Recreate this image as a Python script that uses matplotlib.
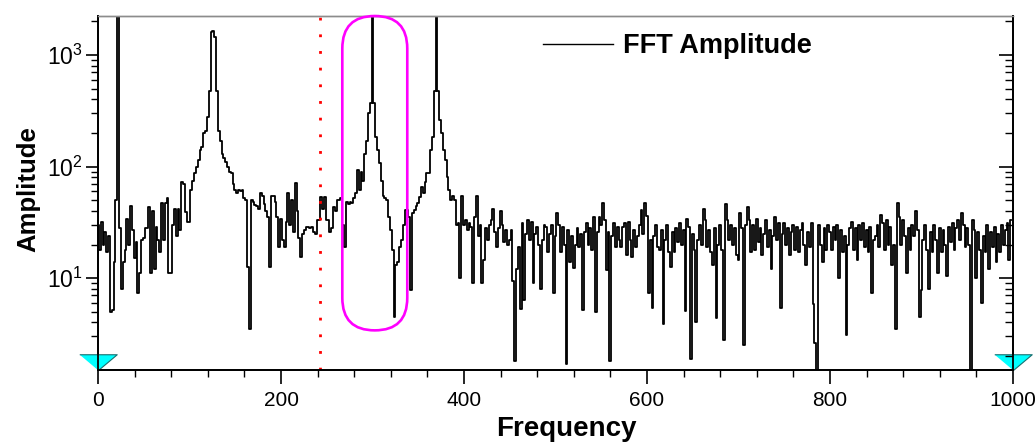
import numpy as np
import matplotlib
matplotlib.use("Agg")
import matplotlib.pyplot as plt
from matplotlib.patches import FancyBboxPatch
from matplotlib.transforms import IdentityTransform
from matplotlib.ticker import FixedLocator, MultipleLocator, LogLocator, NullFormatter, FuncFormatter

plt.rcParams['font.family'] = ['Liberation Sans', 'DejaVu Sans']

# ---------------- data ----------------
freq_step = 2.0  # Hz per FFT bin
amp_000_048 = [30, 18, 32, 20, 26, 17, 24, 5, 5.2, 14, 50, 5000, 28, 8, 14, 18, 34, 20, 44, 27, 15, 21, 7.3, 11, 22]
amp_050_098 = [23, 28, 28, 43, 11, 40, 12, 29, 22, 17, 47, 22, 47, 52, 11, 11, 30, 42, 24, 42, 27, 73, 70, 39, 32]
amp_100_148 = [32, 62, 75, 87, 100, 115, 140, 150, 200, 210, 280, 480, 1600, 1650, 1450, 480, 210, 170, 130, 120, 110, 100, 90, 87, 70]
amp_150_198 = [62, 58, 62, 60, 62, 52, 50, 12.5, 3.5, 50, 48, 45, 44, 42, 58, 55, 46, 40, 35, 12.6, 55, 55, 48, 35, 19]
amp_200_248 = [34, 22, 19, 32, 58, 30, 50, 26, 71, 40, 23, 15.4, 25, 27, 29, 29, 28, 29, 26, 25, 33, 33, 53, 42, 53]
amp_250_298 = [33, 33, 26, 28, 43, 40, 50, 50, 52, 30, 19, 48, 46, 48, 47, 52, 58, 93, 62, 90, 75, 130, 170, 300, 370]
amp_300_348 = [6000, 370, 185, 140, 107, 75, 55, 52, 50, 35, 27, 18, 4.5, 13, 14, 19, 22, 30, 41, 41, 35, 7.8, 38, 41, 44]
amp_350_398 = [47, 53, 65, 58, 72, 87, 87, 140, 185, 480, 6000, 480, 260, 200, 140, 115, 80, 62, 50, 55, 50, 30, 31, 10, 55]
amp_400_448 = [30, 33, 27, 31, 29, 9, 35, 54, 24, 30, 9, 14.5, 28, 22, 30, 33, 42, 26, 19, 28, 40, 30, 21, 27, 20]
amp_450_498 = [22, 27, 9.5, 1.8, 12, 19, 5.3, 31, 6.3, 25, 33, 22, 32, 9, 25, 29, 20, 8, 22, 30, 29, 17, 25, 30, 7.3]
amp_500_548 = [24, 38, 30, 17, 29, 20, 1.7, 27, 14, 24, 12.3, 20, 28, 19, 25, 5.2, 26, 31, 20, 28, 18, 35, 5, 26, 35]
amp_550_598 = [30, 47, 33, 11.8, 26, 1.8, 24, 31, 19, 29, 22, 19, 29, 31, 16, 32, 22, 15.4, 27, 19, 24, 30, 41, 25, 47]
amp_600_648 = [36, 7.3, 22, 5.4, 24, 30, 19, 18, 27, 3.9, 22, 30, 17, 12.6, 26, 17, 28, 21, 31, 20, 27, 5.1, 34, 29, 1.9]
amp_650_698 = [25, 18, 4, 22, 30, 20, 42, 33, 19, 27, 17, 13, 28, 4.4, 20, 30, 18, 2.8, 46, 33, 22, 30, 20, 28, 16]
amp_700_748 = [14.5, 38, 28, 2.5, 30, 43, 33, 17, 30, 18, 34, 21, 28, 16, 25, 33, 19, 27, 12, 24, 35, 22, 31, 5.4, 25]
amp_750_798 = [31, 20, 28, 16, 26, 30, 18, 29, 17, 27, 31, 20, 13, 26, 19, 31, 5.8, 2.6, 1.0, 30, 20, 14, 28, 18, 30]
amp_800_848 = [26, 18, 29, 22, 30, 10, 27, 17, 24, 3.1, 20, 28, 32, 18, 28, 14.5, 30, 22, 31, 19, 27, 17, 29, 7.3, 22]
amp_850_898 = [24, 30, 19, 37, 31, 18, 33, 20, 29, 13, 20, 3.5, 47, 35, 20, 33, 24, 11, 28, 18, 30, 24, 40, 27, 4.5]
amp_900_948 = [7.8, 22, 30, 18, 8, 26, 17, 30, 22, 11, 28, 17, 27, 20, 10.5, 29, 21, 31, 18, 28, 33, 22, 38, 30, 19]
amp_950_998 = [28, 20, 1.0, 33, 27, 10, 26, 18, 6, 24, 17, 30, 12, 26, 19, 29, 14, 25, 17, 30, 20, 27, 31, 14.5, 33]

amplitude = np.array(amp_000_048 + amp_050_098 + amp_100_148 + amp_150_198 + amp_200_248 +
                     amp_250_298 + amp_300_348 + amp_350_398 + amp_400_448 + amp_450_498 +
                     amp_500_548 + amp_550_598 + amp_600_648 + amp_650_698 + amp_700_748 +
                     amp_750_798 + amp_800_848 + amp_850_898 + amp_900_948 + amp_950_998, dtype=float)
frequency = np.arange(len(amplitude)) * freq_step

marker_freq = 243             # red dotted marker line
highlight_freq = (267, 338)   # magenta rounded box, frequency range
highlight_amp = (3.4, 2240)   # magenta rounded box, amplitude range
x_limits = (0, 1000)
y_limits = (1.5, 2240)
x_major_ticks = [0, 200, 400, 600, 800, 1000]
y_major_ticks = [10, 100, 1000]
legend_label = "FFT Amplitude"
x_label = "Frequency"
y_label = "Amplitude"

# ---------------- figure ----------------
W, H = 1035, 445
fig = plt.figure(figsize=(W / 100, H / 100), dpi=100)
ax = fig.add_axes([98 / W, 1 - 370 / H, (1013 - 98) / W, (370 - 16) / H])

line, = ax.plot(frequency, amplitude, color='black', lw=1.3, drawstyle='steps-mid')

ax.set_yscale('log')
ax.set_xlim(*x_limits)
ax.set_ylim(*y_limits)

ax.axvline(marker_freq, color='#ff0000', lw=2.0, ls=(0, (1, 5)), dash_capstyle='butt')

# ticks
ax.xaxis.set_major_locator(FixedLocator(x_major_ticks))
ax.xaxis.set_minor_locator(MultipleLocator(40))
ax.yaxis.set_major_locator(FixedLocator(y_major_ticks))
ax.yaxis.set_minor_locator(LogLocator(base=10, subs=np.arange(2, 10)))
ax.yaxis.set_minor_formatter(NullFormatter())
ax.yaxis.set_major_formatter(FuncFormatter(lambda v, p: r'$\mathregular{10^{%d}}$' % round(np.log10(v))))
ax.tick_params(axis='x', which='major', direction='out', length=10, width=1.2, labelsize=15, pad=5, top=False)
ax.tick_params(axis='x', which='minor', direction='out', length=5, width=1.0, top=False)
ax.tick_params(axis='y', which='major', direction='out', length=9, width=1.2, labelsize=16.5, pad=2, right=False)
ax.tick_params(axis='y', which='minor', direction='out', length=5, width=1.0, right=False)

ax2 = ax.twinx()
ax2.set_yscale('log')
ax2.set_ylim(*y_limits)
ax2.yaxis.set_major_locator(FixedLocator(y_major_ticks))
ax2.yaxis.set_minor_locator(LogLocator(base=10, subs=np.arange(2, 10)))
ax2.yaxis.set_major_formatter(NullFormatter())
ax2.yaxis.set_minor_formatter(NullFormatter())
ax2.tick_params(axis='y', which='major', direction='in', length=10, width=1.2)
ax2.tick_params(axis='y', which='minor', direction='in', length=6, width=1.0)
for a in (ax, ax2):
    for s in ('left', 'right', 'bottom'):
        a.spines[s].set_color('black')
        a.spines[s].set_linewidth(1.3)
    a.spines['top'].set_color('#8c8c8c')
    a.spines['top'].set_linewidth(1.0)

ax.set_xlabel(x_label, fontsize=20, fontweight='bold')
ax.set_ylabel(y_label, fontsize=18.5, fontweight='bold')
ax.xaxis.set_label_coords(0.512, -0.13)
ax.yaxis.set_label_coords(-0.063, 0.511)

leg = ax.legend([line], [legend_label], loc='center left', bbox_to_anchor=(0.486, 0.915),
                frameon=False, handlelength=2.6, handletextpad=0.35, borderpad=0, borderaxespad=0,
                prop={'weight': 'bold', 'size': 19.5})
leg.get_lines()[0].set_linewidth(1.0)

# cyan end markers
tri = [(-1.0, 0.84), (1.0, 0.84), (0.0, 0.0)]
ax.plot(list(x_limits), [y_limits[0], y_limits[0]], ls='none', marker=tri, markersize=27,
        markerfacecolor='#00ffff', markeredgecolor='#1a6f6f', markeredgewidth=0.8, clip_on=False, zorder=5)

# magenta highlight stadium
fig.canvas.draw()
p0 = ax.transData.transform((highlight_freq[0], highlight_amp[0]))
p1 = ax.transData.transform((highlight_freq[1], highlight_amp[1]))
w, h = p1[0] - p0[0], p1[1] - p0[1]
box = FancyBboxPatch((p0[0], p0[1]), w, h, boxstyle=f"round,pad=0,rounding_size={w / 2}",
                     transform=IdentityTransform(), fill=False, edgecolor='#ff00ff', lw=1.9, clip_on=False, zorder=6)
fig.patches.append(box)
box.set_figure(fig)

fig.savefig('out.png', dpi=100)
